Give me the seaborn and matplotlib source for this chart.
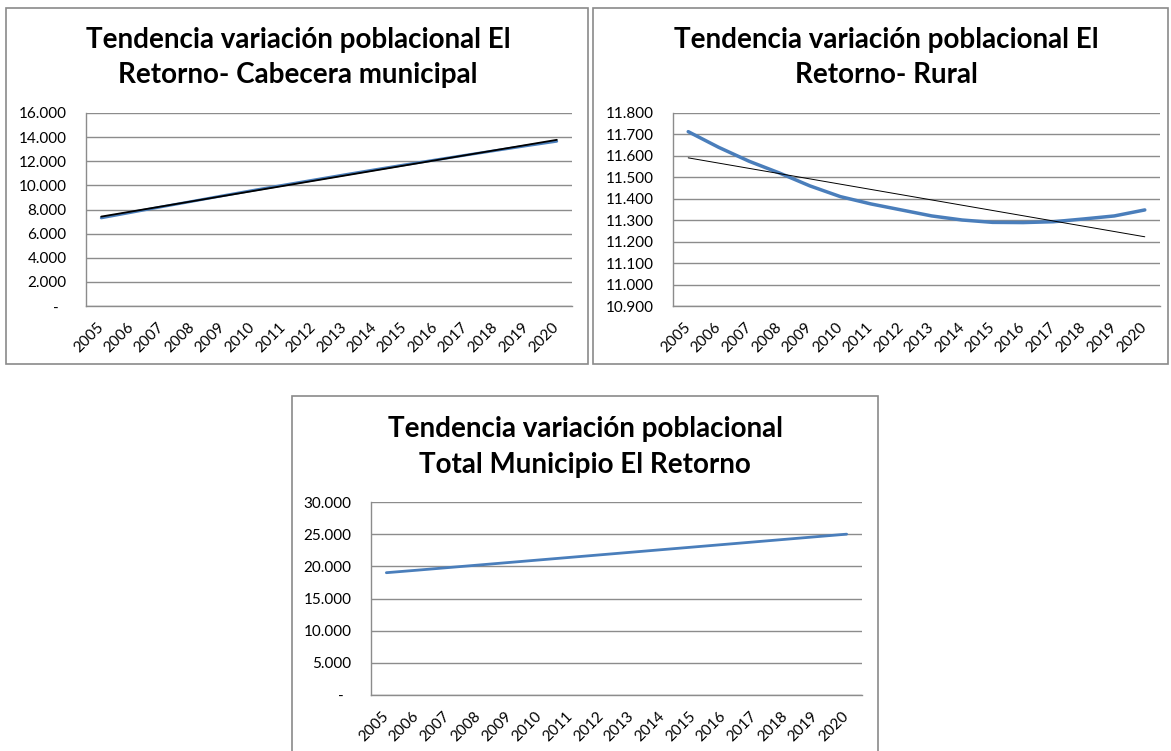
import numpy as np
import pandas as pd
import matplotlib
matplotlib.use("Agg")
import matplotlib.pyplot as plt
import matplotlib.patches as mpatches
from matplotlib.ticker import FuncFormatter
import seaborn as sns

# ---------------- data ----------------
years = [2005, 2006, 2007, 2008, 2009, 2010, 2011, 2012,
         2013, 2014, 2015, 2016, 2017, 2018, 2019, 2020]
cabecera = [7297, 7760, 8225, 8680, 9140, 9590, 10024, 10452,
            10880, 11299, 11710, 12111, 12507, 12894, 13280, 13652]
rural = [11713, 11640, 11575, 11520, 11460, 11410, 11376, 11348,
         11320, 11301, 11290, 11289, 11293, 11306, 11320, 11348]
total = [19010, 19400, 19800, 20200, 20600, 21000, 21400, 21800,
         22200, 22600, 23000, 23400, 23800, 24200, 24600, 25000]

titles = [
    ["Tendencia variación poblacional El", "Retorno- Cabecera municipal"],
    ["Tendencia variación poblacional El", "Retorno- Rural"],
    ["Tendencia variación poblacional", "Total Municipio El Retorno"],
]
ylims = [(0, 16000, 2000), (10900, 11800, 100), (0, 30000, 5000)]

# ---------------- style ----------------
sns.set_style("white")
plt.rcParams["font.family"] = ["Lato", "DejaVu Sans"]

W, H = 1171, 751
fig = plt.figure(figsize=(W / 100, H / 100), dpi=100)
fig.patch.set_facecolor("white")

BLUE = "#4A7EBB"
GRID = "#8C8C8C"


def px_axes(x0, y0, x1, y1):
    return fig.add_axes([x0 / W, 1 - y1 / H, (x1 - x0) / W, (y1 - y0) / H])


def border(x0, y0, x1, y1):
    r = mpatches.Rectangle((x0 / W, 1 - y1 / H), (x1 - x0) / W, (y1 - y0) / H,
                           transform=fig.transFigure, fill=False,
                           edgecolor="#8A8A8A", linewidth=1.2, zorder=0)
    fig.patches.append(r)


def fmt(v, pos):
    if abs(v) < 1e-9:
        return "-  "
    return f"{int(round(v)):,}".replace(",", ".")


def style_axes(ax, lims):
    lo, hi, step = lims
    ax.set_ylim(lo, hi)
    ax.set_yticks(np.arange(lo, hi + step / 2, step))
    ax.yaxis.set_major_formatter(FuncFormatter(fmt))
    ax.set_xlim(2004.5, 2020.5)
    ax.set_xticks(years)
    ax.set_xticklabels([str(y) for y in years], rotation=45, ha="right",
                       va="center", rotation_mode="anchor")
    ax.tick_params(axis="x", length=0, pad=14, labelsize=11, colors="black")
    ax.tick_params(axis="y", length=0, pad=14, labelsize=11, colors="black")
    ax.grid(axis="y", color=GRID, linewidth=1.0)
    ax.grid(axis="x", visible=False)
    ax.set_axisbelow(True)
    for s in ["top", "right"]:
        ax.spines[s].set_visible(False)
    for s in ["left", "bottom"]:
        ax.spines[s].set_color(GRID)
        ax.spines[s].set_linewidth(1.0)
    ax.set_xlabel("")
    ax.set_ylabel("")


# panel borders
border(6, 8, 588, 364)
border(593, 8, 1168, 364)
border(292, 396, 878, 770)

df = pd.DataFrame({"year": years, "cabecera": cabecera,
                   "rural": rural, "total": total})

# panel 1
ax1 = px_axes(86, 113, 572, 306)
sns.lineplot(data=df, x="year", y="cabecera", ax=ax1, color=BLUE, linewidth=2.0)
sns.regplot(data=df, x="year", y="cabecera", ax=ax1, scatter=False, ci=None,
            color="black", line_kws={"linewidth": 1.3})
style_axes(ax1, ylims[0])

# panel 2
ax2 = px_axes(673, 113, 1160, 306)
sns.lineplot(data=df, x="year", y="rural", ax=ax2, color=BLUE, linewidth=2.5)
sns.regplot(data=df, x="year", y="rural", ax=ax2, scatter=False, ci=None,
            color="black", line_kws={"linewidth": 0.7})
style_axes(ax2, ylims[1])

# panel 3
ax3 = px_axes(371, 502, 862, 695)
sns.lineplot(data=df, x="year", y="total", ax=ax3, color=BLUE, linewidth=2.0)
style_axes(ax3, ylims[2])

# titles
title_pos = [(298, 48, 83), (886, 48, 83), (585, 437, 473)]
for (cx, b1, b2), (l1, l2) in zip(title_pos, titles):
    fig.text(cx / W, 1 - b1 / H, l1, ha="center", va="baseline",
             fontsize=20, fontweight="bold", color="black")
    fig.text(cx / W, 1 - b2 / H, l2, ha="center", va="baseline",
             fontsize=20, fontweight="bold", color="black")

fig.savefig("out.png", dpi=100, facecolor="white")
